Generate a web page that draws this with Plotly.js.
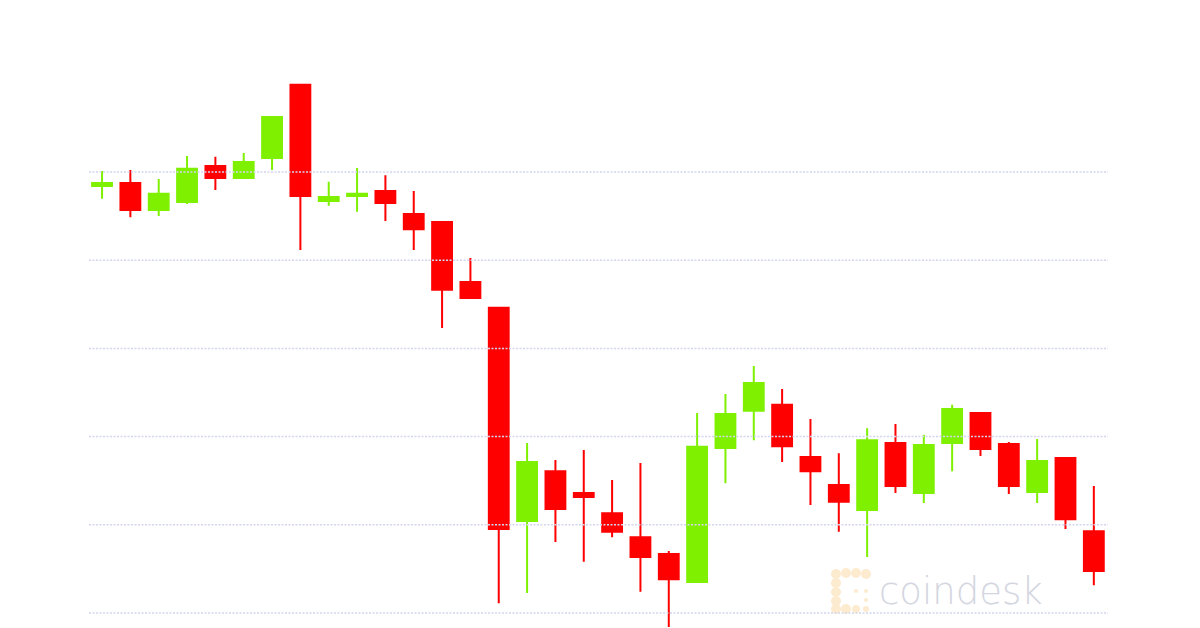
<!DOCTYPE html>
<html>
<head>
<meta charset="utf-8">
<script src="https://cdn.plot.ly/plotly-3.0.1.min.js"></script>
<style>
  html, body { margin: 0; padding: 0; background: #ffffff; }
  #chart { width: 1200px; height: 628px; }
</style>
</head>
<body>
<div id="chart"></div>
<script>
// Hourly candles (index) and OHLC values
const hours = [0,1,2,3,4,5,6,7,8,9,10,11,12,13,14,15,16,17,18,19,20,21,22,23,24,25,26,27,28,29,30,31,32,33,34,35];
const openVals  = [11460,11469,11392,11415,11517,11483,11540,11747,11418,11432,11446,11381,11358,11188,11115,10511,10652,10590,10533,10465,10417,10338,10718,10823,10840,10692,10613,10542,10732,10590,10732,10817,10729,10593,10689,10482];
const highVals  = [11503,11506,11480,11545,11543,11554,11659,11749,11472,11511,11491,11446,11361,11256,11117,10732,10684,10712,10627,10675,10426,10817,10871,10950,10885,10800,10703,10774,10786,10755,10840,10820,10735,10743,10689,10610];
const lowVals   = [11424,11372,11375,11409,11449,11480,11506,11279,11404,11387,11361,11279,11058,11140,10278,10307,10451,10395,10465,10310,10210,10335,10618,10740,10678,10556,10480,10409,10590,10562,10652,10695,10587,10562,10488,10329];
const closeVals = [11469,11392,11438,11509,11483,11528,11656,11432,11429,11438,11412,11338,11166,11143,10488,10678,10545,10579,10480,10409,10346,10721,10814,10902,10723,10652,10565,10740,10610,10726,10828,10715,10610,10681,10516,10369];
const gridValues = [11500, 11250, 11000, 10750, 10500, 10250];

const W = 1200, H = 628, ML = 89, MR = 92;
const PW = W - ML - MR;
function px(x) { return (x - ML) / PW; }
function py(y) { return 1 - y / H; }

const shapes = gridValues.map(v => ({
  type: 'line', xref: 'paper', yref: 'y', x0: 0, x1: 1, y0: v, y1: v,
  layer: 'above',
  line: { color: '#d3d6ee', width: 1.5, dash: '2px,1.5px' }
}));

// coindesk logo blobs (watermark)
const blobs = [[836,574],[846,573],[856,573],[866,574],[836,583],[836,592],[836,601],[836,609],[846,609],[856,609],[866,609],[856,591],[866,591],[866,600]];
const blobR = [5,5,5,5,5,5,5,5,5,4,3,2,2,2];
blobs.forEach((b, i) => {
  const r = blobR[i];
  shapes.push({
    type: 'circle', xref: 'paper', yref: 'paper', layer: 'below',
    x0: px(b[0] - r), x1: px(b[0] + r), y0: py(b[1] + r), y1: py(b[1] - r),
    fillcolor: '#fdebcf', line: { width: 0 }
  });
});

const trace = {
  type: 'candlestick',
  x: hours,
  open: openVals, high: highVals, low: lowVals, close: closeVals,
  increasing: { line: { color: '#7ef000', width: 2 }, fillcolor: '#7ef000' },
  decreasing: { line: { color: '#ff0000', width: 2 }, fillcolor: '#ff0000' },
  whiskerwidth: 0,
  hoverinfo: 'none'
};

const layout = {
  width: W, height: H,
  margin: { l: ML, r: MR, t: 0, b: 0, pad: 0 },
  paper_bgcolor: '#ffffff', plot_bgcolor: '#ffffff',
  showlegend: false,
  boxgap: 0.3,
  boxgroupgap: 0,
  xaxis: { range: [-0.46, 35.5], showgrid: false, zeroline: false, showticklabels: false, showline: false, ticks: '', rangeslider: { visible: false }, fixedrange: true },
  yaxis: { range: [10207.5, 11987.5], showgrid: false, zeroline: false, showticklabels: false, showline: false, ticks: '', fixedrange: true },
  shapes: shapes,
  annotations: [{
    xref: 'paper', yref: 'paper', x: px(877), y: py(591), xanchor: 'left', yanchor: 'middle',
    text: 'coindesk', showarrow: false,
    font: { family: 'DejaVu Sans', size: 37, color: '#d4d6df', weight: 300 }
  }]
};

Plotly.newPlot('chart', [trace], layout, { displayModeBar: false, staticPlot: true });
</script>
</body>
</html>
